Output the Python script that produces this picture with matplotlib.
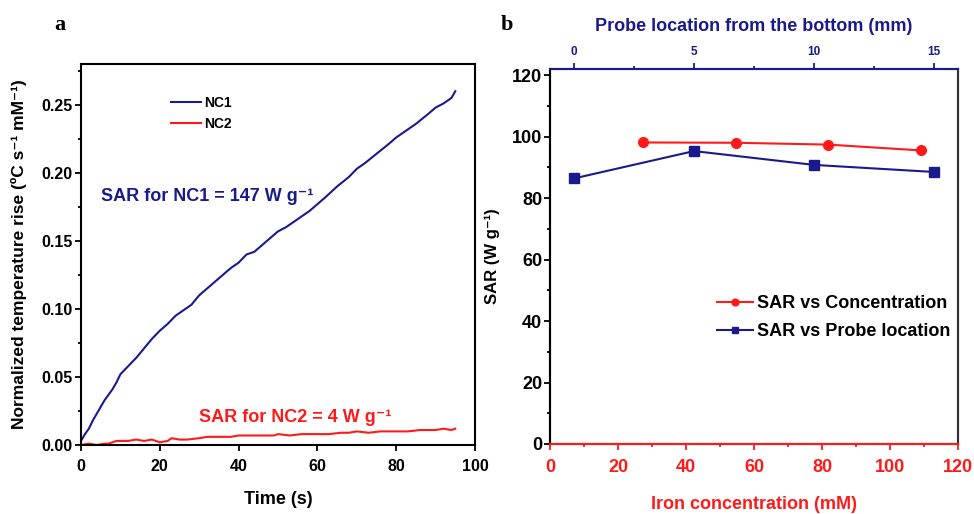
import matplotlib
matplotlib.use("Agg")
import matplotlib.pyplot as plt
from matplotlib.ticker import MultipleLocator, FormatStrFormatter

NAVY = "#1a1a8c"
RED = "#ff1a1a"
FAM = ["Liberation Sans", "DejaVu Sans"]
plt.rcParams["font.family"] = FAM
plt.rcParams["font.weight"] = "bold"

# ---- panel a data ----
time_nc1 = [0, 1, 2, 3, 4, 5, 6, 7, 8, 9, 10, 12, 14, 16, 18, 20, 22, 24, 26, 28, 30,
            32, 34, 36, 38, 40, 42, 44, 46, 48, 50, 52, 55, 58, 60, 62, 65, 68, 70,
            72, 75, 78, 80, 82, 85, 88, 90, 92, 94, 95]
sar_nc1 = [0.003, 0.008, 0.012, 0.018, 0.023, 0.028, 0.033, 0.037, 0.041, 0.046, 0.052,
           0.058, 0.064, 0.071, 0.078, 0.084, 0.089, 0.095, 0.099, 0.103, 0.110,
           0.115, 0.120, 0.125, 0.130, 0.134, 0.140, 0.142, 0.147, 0.152, 0.157,
           0.160, 0.166, 0.172, 0.177, 0.182, 0.190, 0.197, 0.203, 0.207, 0.214,
           0.221, 0.226, 0.230, 0.236, 0.243, 0.248, 0.251, 0.255, 0.260]
time_nc2 = [0, 2, 4, 6, 7, 8, 9, 10, 12, 14, 16, 18, 20, 22, 23, 25, 27, 30, 32, 35,
            38, 40, 43, 46, 49, 50, 53, 56, 58, 60, 63, 66, 68, 70, 73, 76, 78, 80,
            83, 86, 88, 90, 92, 94, 95]
sar_nc2 = [0.000, 0.001, 0.000, 0.001, 0.001, 0.002, 0.003, 0.003, 0.003, 0.004, 0.003,
           0.004, 0.002, 0.003, 0.005, 0.004, 0.004, 0.005, 0.006, 0.006, 0.006,
           0.007, 0.007, 0.007, 0.007, 0.008, 0.007, 0.008, 0.008, 0.008, 0.008,
           0.009, 0.009, 0.010, 0.009, 0.010, 0.010, 0.010, 0.010, 0.011, 0.011,
           0.011, 0.012, 0.011, 0.012]

# ---- panel b data ----
iron_conc = [27.3, 54.6, 81.9, 109.2]
sar_conc = [98.1, 98.0, 97.4, 95.5]
probe_loc = [0, 5, 10, 15]
sar_probe = [86.4, 95.3, 90.8, 88.5]

fig = plt.figure(figsize=(9.74, 5.14), dpi=100)
W, H = 974, 514

def rect(l, t, r, b):
    return [l / W, 1 - b / H, (r - l) / W, (b - t) / H]

# ---------- panel a ----------
ax = fig.add_axes(rect(81, 64, 475, 445))
ax.plot(time_nc1, sar_nc1, color=NAVY, lw=1.5, label="NC1")
ax.plot(time_nc2, sar_nc2, color=RED, lw=1.5, label="NC2")
ax.set_xlim(0, 100)
ax.set_ylim(0, 0.28)
ax.xaxis.set_major_locator(MultipleLocator(20))
ax.yaxis.set_major_locator(MultipleLocator(0.05))
ax.yaxis.set_minor_locator(MultipleLocator(0.025))
ax.yaxis.set_major_formatter(FormatStrFormatter("%.2f"))
ax.tick_params(axis="both", which="both", direction="out", labelsize=11.5,
               top=False, right=False, width=1.3)
ax.tick_params(which="major", length=4)
ax.tick_params(which="minor", length=2.5)
ax.tick_params(axis="y", pad=2)
ax.tick_params(axis="x", pad=6)
for s in ax.spines.values():
    s.set_linewidth(1.5)
ax.set_xlabel("Time (s)", fontsize=13, fontweight="bold", labelpad=12)
ax.set_ylabel("Normalized temperature rise (ºC s⁻¹ mM⁻¹)",
              fontsize=12.5, fontweight="bold", labelpad=10)
ax.legend(loc="upper left", bbox_to_anchor=(0.21, 0.935), frameon=False,
          borderpad=0, fontsize=10, handlelength=2.2, handletextpad=0.2,
          labelspacing=0.5)
ax.text(5, 0.179, "SAR for NC1 = 147 W g⁻¹", color=NAVY, fontsize=13,
        fontweight="bold")
ax.text(30, 0.017, "SAR for NC2 = 4 W g⁻¹", color=RED, fontsize=13,
        fontweight="bold")
fig.text(60 / W, 1 - 25 / H, "a", family=["Liberation Serif", "DejaVu Serif"],
         fontsize=16, fontweight="bold", ha="center", va="center")

# ---------- panel b ----------
bx = fig.add_axes(rect(550, 69, 958, 444))
bx.plot(iron_conc, sar_conc, color=RED, lw=1.5, marker="o", ms=7,
        label="SAR vs Concentration")
bx.set_xlim(0, 120)
bx.set_ylim(0, 122)
bx.xaxis.set_major_locator(MultipleLocator(20))
bx.xaxis.set_minor_locator(MultipleLocator(10))
bx.yaxis.set_major_locator(MultipleLocator(20))
bx.yaxis.set_minor_locator(MultipleLocator(10))
bx.tick_params(axis="both", which="both", direction="out", top=False, right=False,
               labelsize=13, width=1.3)
bx.tick_params(which="major", length=4)
bx.tick_params(which="minor", length=2.5)
bx.tick_params(axis="y", pad=1.5)
bx.tick_params(axis="x", which="both", colors=RED, pad=7)
for s in bx.spines.values():
    s.set_linewidth(1.5)
bx.spines["right"].set_color("#333333")
bx.set_xlabel("Iron concentration (mM)", fontsize=13, fontweight="bold",
              color=RED, labelpad=14)
bx.set_ylabel("SAR (W g⁻¹)", fontsize=12, fontweight="bold", labelpad=9)

tx = bx.twiny()
tx.plot(probe_loc, sar_probe, color=NAVY, lw=1.5, marker="s", ms=6.5,
        label="SAR vs Probe location")
tx.set_xlim(-1, 16)
tx.xaxis.set_major_locator(MultipleLocator(5))
tx.xaxis.set_minor_locator(MultipleLocator(2.5))
tx.tick_params(axis="x", which="both", direction="out", colors=NAVY, labelsize=8.5,
               width=1.3, pad=4)
tx.tick_params(which="major", length=4)
tx.tick_params(which="minor", length=2.5)
for s in tx.spines.values():
    s.set_linewidth(1.5)
tx.spines["top"].set_color(NAVY)
tx.spines["bottom"].set_color(RED)
tx.spines["right"].set_color("#333333")
tx.set_xlabel("Probe location from the bottom (mm)", fontsize=13, fontweight="bold",
              color=NAVY, labelpad=11)

h1, l1 = bx.get_legend_handles_labels()
h2, l2 = tx.get_legend_handles_labels()
tx.legend(h1 + h2, l1 + l2, loc="upper left", bbox_to_anchor=(0.37, 0.44),
          frameon=False, handlelength=2.0, handletextpad=0.2,
          labelspacing=0.6, markerscale=0.7, prop={"size": 13})
fig.text(507 / W, 1 - 25 / H, "b", family=["Liberation Serif", "DejaVu Serif"],
         fontsize=16, fontweight="bold", ha="center", va="center")

fig.savefig("out.png", dpi=100)
